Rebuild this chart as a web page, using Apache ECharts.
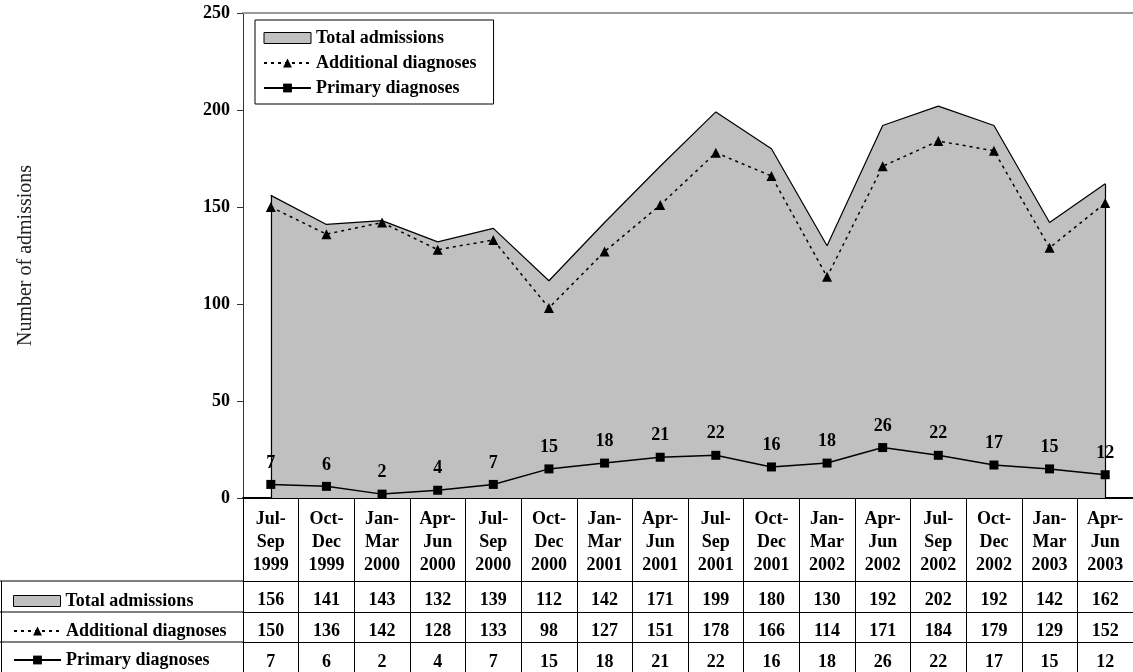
<!DOCTYPE html>
<html>
<head>
<meta charset="utf-8">
<script src="https://cdn.jsdelivr.net/npm/echarts@6/dist/echarts.min.js"></script>
<style>
html,body{margin:0;padding:0;background:#fff;}
#chart{width:1133px;height:672px;}
</style>
</head>
<body>
<div id="chart"></div>
<script>
const categories = ['Jul-Sep 1999','Oct-Dec 1999','Jan-Mar 2000','Apr-Jun 2000','Jul-Sep 2000','Oct-Dec 2000','Jan-Mar 2001','Apr-Jun 2001','Jul-Sep 2001','Oct-Dec 2001','Jan-Mar 2002','Apr-Jun 2002','Jul-Sep 2002','Oct-Dec 2002','Jan-Mar 2003','Apr-Jun 2003'];
const totalAdmissions = [156,141,143,132,139,112,142,171,199,180,130,192,202,192,142,162];
const additionalDiagnoses = [150,136,142,128,133,98,127,151,178,166,114,171,184,179,129,152];
const primaryDiagnoses = [7,6,2,4,7,15,18,21,22,16,18,26,22,17,15,12];
const yTicks = {min:0, max:250, interval:50};
const seriesNames = ['Total admissions','Additional diagnoses','Primary diagnoses'];

const FONT = 'Liberation Serif';
const chart = echarts.init(document.getElementById('chart'), null, {renderer:'canvas'});

const lastIdx = categories.length - 1;

function tableAxis(values, offset, margin) {
  return {
    type:'category', gridIndex:0, position:'bottom', offset:offset,
    data: values.map(String), boundaryGap:true,
    axisLine:{show:true, lineStyle:{color:'#000', width:1}},
    axisTick:{show:false},
    axisLabel:{show:true, interval:0, margin:margin, fontFamily:FONT, fontWeight:'bold', fontSize:18, color:'#000', lineHeight:18},
    splitLine:{show:false}
  };
}

const legendText = {fontFamily:FONT, fontWeight:'bold', fontSize:18, color:'#000', lineHeight:18};
const legendData = [
  {name:seriesNames[0], icon:'rect', itemStyle:{color:'#c0c0c0', borderColor:'#000', borderWidth:1}},
  {name:seriesNames[1]},
  {name:seriesNames[2]}
];
function tableLegend(i, top) {
  return {
    orient:'horizontal', left:8, top:top, itemWidth:47, itemHeight:11,
    padding:[0,5,0,5], textStyle:legendText, data:[legendData[i]], selectedMode:false
  };
}

const option = {
  backgroundColor:'#fff',
  animation:false,
  grid:{left:243, right:0, top:13, bottom:174, show:false},
  legend:[
    {
      orient:'vertical', left:255, top:20, itemWidth:47, itemHeight:11, itemGap:7,
      padding:[9,17,7,8], borderColor:'#000', borderWidth:1, backgroundColor:'#fff',
      textStyle:legendText, data:legendData, selectedMode:false
    },
    tableLegend(0, 592),
    tableLegend(1, 622),
    tableLegend(2, 651)
  ],
  xAxis:[
    {
      type:'category', data:categories, boundaryGap:true, gridIndex:0, position:'bottom',
      axisLine:{show:true, lineStyle:{color:'#000', width:2}},
      axisTick:{show:true, interval:0, alignWithLabel:false, length:174, lineStyle:{color:'#000', width:1}},
      axisLabel:{show:true, interval:0, margin:10, fontFamily:FONT, fontWeight:'bold', fontSize:18, color:'#000', lineHeight:23,
        formatter:function(v){ return v.replace('-', '-\n').replace(' ', '\n'); }},
      splitLine:{show:false}
    },
    tableAxis(totalAdmissions, 83, 10),
    tableAxis(additionalDiagnoses, 114, 10),
    tableAxis(primaryDiagnoses, 144, 11),
    {
      type:'category', data:categories, gridIndex:0, position:'top',
      axisLine:{show:true, lineStyle:{color:'#999', width:2}},
      axisTick:{show:false}, axisLabel:{show:false}, splitLine:{show:false}
    }
  ],
  yAxis:{
    type:'value', min:yTicks.min, max:yTicks.max, interval:yTicks.interval,
    name:'Number of admissions', nameLocation:'middle', nameGap:207, nameRotate:90,
    nameTextStyle:{fontFamily:FONT, fontSize:20, color:'#222', fontWeight:'normal'},
    axisLine:{show:true, lineStyle:{color:'#333', width:1}},
    axisTick:{show:true, length:6, lineStyle:{color:'#333'}},
    axisLabel:{margin:13, fontFamily:FONT, fontWeight:'bold', fontSize:18, color:'#000'},
    splitLine:{show:false}
  },
  series:[
    {
      name:seriesNames[0], type:'line', data:totalAdmissions, xAxisIndex:0, symbol:'none',
      itemStyle:{color:'#c0c0c0', borderColor:'#000', borderWidth:1},
      lineStyle:{color:'#000', width:1.2},
      areaStyle:{color:'#c0c0c0', opacity:1},
      z:1,
      markLine:{
        silent:true, symbol:['none','none'], label:{show:false},
        lineStyle:{color:'#000', width:1.2, type:'solid'},
        data:[
          [{coord:[0, 0]}, {coord:[0, totalAdmissions[0]]}],
          [{coord:[lastIdx, 0]}, {coord:[lastIdx, totalAdmissions[lastIdx]]}]
        ]
      }
    },
    {
      name:seriesNames[1], type:'line', data:additionalDiagnoses, xAxisIndex:0,
      symbol:'triangle', symbolSize:10,
      itemStyle:{color:'#000'},
      lineStyle:{color:'#000', width:1.5, type:[3,4]},
      z:3
    },
    {
      name:seriesNames[2], type:'line', data:primaryDiagnoses, xAxisIndex:0,
      symbol:'rect', symbolSize:9,
      itemStyle:{color:'#000'},
      lineStyle:{color:'#000', width:1.5, type:'solid'},
      label:{show:true, position:'top', distance:8, fontFamily:FONT, fontWeight:'bold', fontSize:18, color:'#000'},
      z:4
    }
  ],
  graphic:[
    {type:'line', shape:{x1:0, y1:581, x2:243, y2:581}, style:{stroke:'#000', lineWidth:1}, silent:true},
    {type:'line', shape:{x1:0, y1:612, x2:243, y2:612}, style:{stroke:'#000', lineWidth:1}, silent:true},
    {type:'line', shape:{x1:0, y1:642, x2:243, y2:642}, style:{stroke:'#000', lineWidth:1}, silent:true},
    {type:'line', shape:{x1:1.5, y1:581, x2:1.5, y2:672}, style:{stroke:'#000', lineWidth:1}, silent:true}
  ]
};
chart.setOption(option);
</script>
</body>
</html>
